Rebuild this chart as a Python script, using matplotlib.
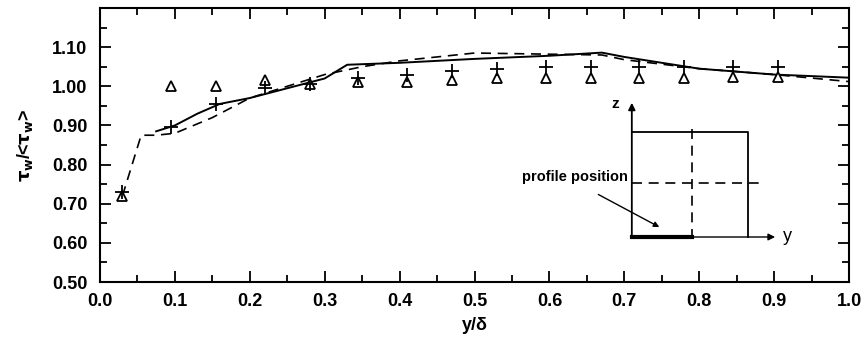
import numpy as np
import matplotlib
matplotlib.use("Agg")
import matplotlib.pyplot as plt
from matplotlib.ticker import MultipleLocator

plt.rcParams['font.family'] = ['Liberation Sans', 'DejaVu Sans']

# measured points
x_pts = [0.03, 0.095, 0.155, 0.22, 0.28, 0.345, 0.41, 0.47, 0.53, 0.595, 0.655, 0.72, 0.78, 0.845, 0.905]
tri_y = [0.72, 1.00, 1.00, 1.015, 1.005, 1.01, 1.01, 1.015, 1.02, 1.02, 1.02, 1.02, 1.02, 1.025, 1.025]
plus_y = [0.73, 0.895, 0.955, 0.995, 1.005, 1.02, 1.03, 1.04, 1.045, 1.05, 1.05, 1.05, 1.05, 1.05, 1.05]

# solid curve
sol_x = [0.075, 0.10, 0.13, 0.16, 0.20, 0.25, 0.30, 0.33, 0.40, 0.50, 0.60, 0.67, 0.70, 0.80, 0.90, 1.00]
sol_y = [0.885, 0.90, 0.93, 0.955, 0.97, 0.995, 1.02, 1.055, 1.06, 1.07, 1.078, 1.086, 1.075, 1.045, 1.03, 1.022]

# dashed curve
das_x = [0.03, 0.055, 0.075, 0.10, 0.15, 0.20, 0.25, 0.30, 0.35, 0.40, 0.50, 0.60, 0.67, 0.70, 0.80, 0.90, 1.00]
das_y = [0.72, 0.875, 0.875, 0.88, 0.92, 0.97, 1.00, 1.03, 1.05, 1.065, 1.085, 1.082, 1.08, 1.068, 1.045, 1.03, 1.012]

fig = plt.figure(figsize=(8.67, 3.42), dpi=100)
ax = fig.add_axes([0.1153, 0.1754, 0.864, 0.8012])

ax.plot(sol_x, sol_y, 'k-', lw=1.4)
ax.plot(das_x, das_y, 'k--', lw=1.2, dashes=(6, 4))
ax.plot(x_pts, tri_y, 'k^', mfc='white', ms=7.5, mew=1.3, ls='none')
ax.plot(x_pts, plus_y, 'k+', ms=10, mew=1.3, ls='none')

# inset sketch of the duct cross section
ax.annotate('', xy=(0.71, 0.965), xytext=(0.71, 0.612),
            arrowprops=dict(arrowstyle='-|>', color='k', lw=1.3, mutation_scale=10))
ax.annotate('', xy=(0.905, 0.615), xytext=(0.705, 0.615),
            arrowprops=dict(arrowstyle='-|>', color='k', lw=1.0, mutation_scale=10))
ax.text(0.688, 0.955, 'z', fontsize=11, fontweight='bold', ha='center', va='center')
ax.text(0.918, 0.615, 'y', fontsize=13, ha='center', va='center')
ax.plot([0.71, 0.865, 0.865], [0.882, 0.882, 0.615], 'k-', lw=1.3)
ax.plot([0.71, 0.884], [0.754, 0.754], 'k--', lw=1.2, dashes=(6, 4))
ax.plot([0.79, 0.79], [0.89, 0.615], 'k--', lw=1.2, dashes=(6, 4))
ax.plot([0.71, 0.79], [0.615, 0.615], 'k-', lw=3)
ax.text(0.634, 0.768, 'profile position', fontsize=10.5, fontweight='bold',
        ha='center', va='center')
ax.annotate('', xy=(0.75, 0.637), xytext=(0.662, 0.727),
            arrowprops=dict(arrowstyle='-|>', color='k', lw=1.0, mutation_scale=8))

ax.set_xlim(0, 1.0)
ax.set_ylim(0.5, 1.2)
ax.xaxis.set_major_locator(MultipleLocator(0.1))
ax.xaxis.set_minor_locator(MultipleLocator(0.05))
ax.set_yticks(np.arange(0.5, 1.11, 0.1))
ax.yaxis.set_minor_locator(MultipleLocator(0.05))
ax.xaxis.set_major_formatter(matplotlib.ticker.FormatStrFormatter('%.1f'))
ax.yaxis.set_major_formatter(matplotlib.ticker.FormatStrFormatter('%.2f'))
ax.tick_params(which='both', direction='in', top=True, right=True, labelsize=13, width=1.3)
ax.tick_params(which='major', length=8)
ax.tick_params(which='minor', length=5)
ax.tick_params(axis='x', pad=8)
ax.tick_params(axis='y', pad=9)
for lab in ax.get_xticklabels() + ax.get_yticklabels():
    lab.set_fontweight('bold')
for s in ax.spines.values():
    s.set_linewidth(1.5)

ax.set_xlabel('y/δ', fontsize=13, fontweight='bold', labelpad=5)
ax.set_ylabel(r'$\mathbf{\tau_w}$/<$\mathbf{\tau_w}$>', fontsize=13, fontweight='bold', labelpad=12)

fig.savefig('out.png', dpi=100)
